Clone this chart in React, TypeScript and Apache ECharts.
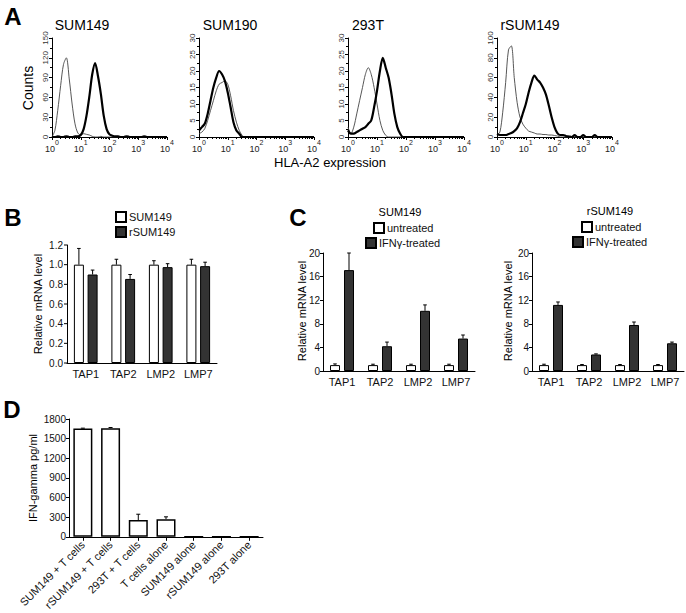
import React, { useEffect, useRef } from "react";
import * as echarts from "echarts";

const FONT = "'Liberation Sans', Arial, Helvetica, sans-serif";

// ---------- Panel A: flow histograms (x = fluorescence, log scale) ----------
const histX = [1, 1.26, 1.58, 2, 2.51, 3.16, 3.98, 5.01, 6.31, 7.94,
  10, 12.6, 15.8, 20, 25.1, 31.6, 39.8, 50.1, 63.1, 79.4,
  100, 126, 158, 200, 251, 316, 398, 501, 631, 794,
  1000, 1260, 1580, 2000, 2510, 3160, 3980, 5010, 6310, 7940, 10000];

const histTitles = ["SUM149", "SUM190", "293T", "rSUM149"];
const histYMax = [150, 30, 30, 100];
const histYStep = [30, 5, 5, 20];

// thin = control, thick = HLA-A2 stain
const sum149Ctrl = [0, 10, 40, 78, 110, 120, 88, 50, 20, 6, 3, 5, 4, 3, 1, 0, 0, 1, 0, 0, 0, 0, 0, 0, 0, 0, 0, 0, 0, 0, 0, 0, 0, 0, 0, 0, 0, 0, 0, 0, 0];
const sum149Stain = [0, 0, 1, 0, 0, 1, 0, 0, 1, 1, 3, 12, 32, 62, 95, 112, 92, 65, 32, 12, 4, 2, 1, 1, 0, 0, 1, 0, 0, 0, 0, 0, 1, 0, 0, 0, 0, 0, 0, 0, 0];
const sum190Ctrl = [1, 1.5, 2.5, 5, 8, 11, 14, 16, 16.5, 17, 16, 12.5, 8, 4.5, 2, 0.5, 0, 0, 0, 0, 0, 0, 0, 0, 0, 0, 0, 0, 0, 0, 0, 0, 0, 0, 0, 0, 0, 0, 0, 0, 0];
const sum190Stain = [2, 3, 4, 7, 11, 15, 18, 20, 19, 17, 13.5, 9, 4.5, 2, 1, 0, 0, 0, 0, 0, 0, 0, 0, 0, 0, 0, 0, 0, 0, 0, 0, 0, 0, 0, 0, 0, 0, 0, 0, 0, 0];
const t293Ctrl = [3, 1, 3, 7, 11, 15, 19, 21, 19, 15, 10, 5, 2, 0.5, 0, 0, 0, 0, 0, 0, 0, 0, 0, 0, 0, 0, 0, 0, 0, 0, 0, 0, 0, 0, 0, 0, 0, 0, 0, 0, 0];
const t293Stain = [2, 1, 1, 1.5, 2, 2.5, 3, 4, 5, 9, 14, 20, 24, 21, 18, 13, 7, 3, 1, 0, 0, 0, 0, 0, 0, 0, 0, 0, 0, 0, 0, 0, 0, 0, 0, 0, 0, 0, 0, 0, 0];
const rsum149Ctrl = [2, 5, 25, 55, 88, 92, 60, 35, 20, 13, 9, 6, 5, 4, 3, 3, 2.5, 2.5, 2, 2, 1.5, 1, 0, 0, 0, 0, 0, 0, 0, 0, 0, 0, 0, 0, 0, 0, 0, 0, 0, 0, 0];
const rsum149Stain = [3, 2, 2, 2, 3, 4, 6, 9, 15, 24, 33, 45, 55, 62, 58, 55, 50, 43, 32, 20, 10, 4, 2, 2, 1, 0.5, 0, 2, 0, 0, 2, 0, 0, 0, 2, 0, 0, 0, 0, 0, 0];

const histCtrl = [sum149Ctrl, sum190Ctrl, t293Ctrl, rsum149Ctrl];
const histStain = [sum149Stain, sum190Stain, t293Stain, rsum149Stain];

// ---------- Panel B ----------
const genes = ["TAP1", "TAP2", "LMP2", "LMP7"];
const bSum149 = [1.0, 1.0, 1.0, 1.0];
const bSum149Err = [0.165, 0.055, 0.04, 0.055];
const bRsum149 = [0.9, 0.855, 0.975, 0.985];
const bRsum149Err = [0.045, 0.045, 0.035, 0.04];
const bTickValues = [0, 0.2, 0.4, 0.6, 0.8, 1.0, 1.2];
const bTickLabels = ["0.0", "0.2", "0.4", "0.6", "0.8", "1.0", "1.2"];
const bMax = 1.2;

// ---------- Panel C ----------
const cLeftUntreated = [1.0, 1.0, 1.0, 1.0];
const cLeftUntreatedErr = [0.2, 0.15, 0.15, 0.15];
const cLeftIfn = [17.1, 4.2, 10.2, 5.5];
const cLeftIfnErr = [2.9, 0.7, 1.0, 0.6];
const cRightUntreated = [1.0, 1.0, 1.0, 1.0];
const cRightUntreatedErr = [0.15, 0.1, 0.1, 0.1];
const cRightIfn = [11.2, 2.8, 7.8, 4.7];
const cRightIfnErr = [0.5, 0.1, 0.5, 0.2];

// ---------- Panel D ----------
const dCategories = ["SUM149 + T cells", "rSUM149 + T cells", "293T + T cells", "T cells alone", "SUM149 alone", "rSUM149 alone", "293T alone"];
const dValues = [1655, 1660, 255, 270, 0, 0, 0];
const dErr = [5, 10, 90, 35, 0, 0, 0];

function errSeries(axisIdx: number, values: number[], errs: number[], offset: number, capHalf: number) {
  return {
    type: "custom",
    xAxisIndex: axisIdx,
    yAxisIndex: axisIdx,
    silent: true,
    z: 10,
    data: values.map((v, i) => [i, v, v + errs[i]]),
    renderItem: (params: any, api: any) => {
      const v = api.value(1);
      const t = api.value(2);
      if (t - v <= 0) return { type: "group", children: [] };
      const base = api.coord([api.value(0), v]);
      const top = api.coord([api.value(0), t]);
      const x = base[0] + offset;
      return {
        type: "group",
        children: [
          { type: "line", shape: { x1: x, y1: base[1], x2: x, y2: top[1] }, style: { stroke: "#000", lineWidth: 1 } },
          { type: "line", shape: { x1: x - capHalf, y1: top[1], x2: x + capHalf, y2: top[1] }, style: { stroke: "#000", lineWidth: 1 } },
        ],
      };
    },
  };
}

const axisLine = { show: true, lineStyle: { color: "#000", width: 1 } };

const catAxis = (gi: number, data: string[], extra: any = {}) => ({
  type: "category",
  gridIndex: gi,
  data,
  axisLine: { ...axisLine },
  axisTick: { show: false },
  axisLabel: { fontSize: 11, color: "#111", margin: 5, fontFamily: FONT, interval: 0 },
  ...extra,
});
const valAxis = (gi: number, max: number, interval: number, fmt: (v: any) => string, extra: any = {}) => ({
  type: "value",
  gridIndex: gi,
  position: "left",
  min: 0,
  max,
  interval,
  axisLine: { ...axisLine },
  axisTick: { show: true, length: 3, lineStyle: { color: "#000" } },
  splitLine: { show: false },
  axisLabel: { show: true, fontSize: 10, color: "#111", margin: 3, fontFamily: FONT, formatter: fmt },
  ...extra,
});
const legendItem = (name: string, left: number, top: number) => ({
  data: [name],
  left,
  top,
  padding: 0,
  itemWidth: 10,
  itemHeight: 10,
  icon: "rect",
  selectedMode: false,
  textStyle: { fontSize: 11, color: "#111", fontFamily: FONT, padding: [0, 0, 0, -2] },
});
const txt = (text: string, x: number, y: number, size: number, extra: any = {}) => ({
  type: "text",
  x,
  y,
  ...extra,
  style: { text, fontSize: size, fontFamily: FONT, fill: "#000", align: "center", verticalAlign: "middle", ...(extra.style || {}) },
});
const vert = { rotation: Math.PI / 2 };
const whiteBar = { color: "#fff", borderColor: "#000", borderWidth: 1 };
const darkBar = { color: "#333", borderColor: "#000", borderWidth: 1 };
const plain = (v: any) => String(v);

// Panel B is drawn in its own instance, laid over the main one at this offset
const B_TOP = 190;
const B_GRID = { left: 67, top: 245 - B_TOP, width: 150, height: 118 };

export default function App() {
  const ref = useRef<HTMLDivElement>(null);
  const refB = useRef<HTMLDivElement>(null);
  useEffect(() => {
    if (!ref.current || !refB.current) return;
    const chart = echarts.init(ref.current, null, { renderer: "svg" });
    const chartB = echarts.init(refB.current, null, { renderer: "svg" });

    const histGrids = [
      { left: 52, top: 38, width: 115, height: 99 },
      { left: 199, top: 38, width: 115, height: 99 },
      { left: 348, top: 38, width: 116, height: 99 },
      { left: 497, top: 38, width: 115, height: 99 },
    ];
    const barGrids = [
      { left: 323, top: 253, width: 152, height: 118 }, // C left
      { left: 532, top: 253, width: 152, height: 118 }, // C right
      { left: 69, top: 419, width: 194, height: 118.5 }, // D
    ];
    const grid = [...histGrids, ...barGrids].map((g) => ({ ...g, containLabel: false }));

    const histXAxes = histGrids.map((_, i) => ({
      type: "log",
      gridIndex: i,
      min: 1,
      max: 10000,
      logBase: 10,
      axisLine: { ...axisLine },
      axisTick: { show: true, length: 3, lineStyle: { color: "#000" } },
      minorTick: { show: true, splitNumber: 9, length: 2, lineStyle: { color: "#000" } },
      splitLine: { show: false },
      minorSplitLine: { show: false },
      axisLabel: {
        margin: 2,
        formatter: (v: number) => `{b|10}{s|${Math.round(Math.log10(v))}}`,
        rich: {
          b: { fontSize: 9, fontFamily: FONT, color: "#222", verticalAlign: "bottom", lineHeight: 14 },
          s: { fontSize: 7, fontFamily: FONT, color: "#222", verticalAlign: "top", lineHeight: 14 },
        },
      },
    }));
    const histYAxes = histGrids.map((_, i) => ({
      type: "value",
      gridIndex: i,
      min: 0,
      max: histYMax[i],
      interval: histYStep[i],
      axisLine: { ...axisLine },
      axisTick: { show: true, length: 3, lineStyle: { color: "#000" } },
      minorTick: { show: true, splitNumber: 2, length: 2, lineStyle: { color: "#000" } },
      splitLine: { show: false },
      axisLabel: { rotate: 90, fontSize: 8, color: "#333", margin: 3, fontFamily: FONT },
    }));

    const xAxis = [
      ...histXAxes,
      catAxis(4, genes),
      catAxis(5, genes),
      catAxis(6, dCategories, {
        axisTick: { show: true, alignWithLabel: true, length: 4, lineStyle: { color: "#000" } },
        axisLabel: { fontSize: 11, color: "#111", margin: 6, rotate: 45, interval: 0, fontFamily: FONT },
      }),
    ];
    const yAxis = [
      ...histYAxes,
      valAxis(4, 20, 4, plain),
      valAxis(5, 20, 4, plain),
      valAxis(6, 1800, 300, plain),
    ];

    const histSeries: any[] = [];
    histGrids.forEach((_, i) => {
      histSeries.push({
        type: "line",
        name: histTitles[i] + " control",
        xAxisIndex: i,
        yAxisIndex: i,
        showSymbol: false,
        symbol: "none",
        smooth: 0.3,
        data: histCtrl[i].map((c, k) => [histX[k], c]),
        lineStyle: { color: "#444", width: 0.9 },
        z: 3,
      });
      histSeries.push({
        type: "line",
        name: histTitles[i] + " HLA-A2",
        xAxisIndex: i,
        yAxisIndex: i,
        showSymbol: false,
        symbol: "none",
        smooth: 0.3,
        data: histStain[i].map((c, k) => [histX[k], c]),
        lineStyle: { color: "#000", width: 2.2 },
        z: 4,
      });
    });

    const barSeries: any[] = [
      { type: "bar", name: "untreated", xAxisIndex: 4, yAxisIndex: 4, data: cLeftUntreated, barWidth: 10, barGap: "40%", itemStyle: whiteBar },
      { type: "bar", name: "IFNγ-treated", xAxisIndex: 4, yAxisIndex: 4, data: cLeftIfn, barWidth: 10, barGap: "40%", itemStyle: darkBar },
      errSeries(4, cLeftUntreated, cLeftUntreatedErr, -7, 1.8),
      errSeries(4, cLeftIfn, cLeftIfnErr, 7, 1.8),

      { type: "bar", name: "untreated", xAxisIndex: 5, yAxisIndex: 5, data: cRightUntreated, barWidth: 10, barGap: "40%", itemStyle: whiteBar },
      { type: "bar", name: "IFNγ-treated", xAxisIndex: 5, yAxisIndex: 5, data: cRightIfn, barWidth: 10, barGap: "40%", itemStyle: darkBar },
      errSeries(5, cRightUntreated, cRightUntreatedErr, -7, 1.8),
      errSeries(5, cRightIfn, cRightIfnErr, 7, 1.8),

      { type: "bar", name: "IFN-gamma", xAxisIndex: 6, yAxisIndex: 6, data: dValues, barWidth: 19, itemStyle: { color: "#fff", borderColor: "#000", borderWidth: 1.5 } },
      errSeries(6, dValues, dErr, 0, 2),
    ];

    chart.setOption({
      animation: false,
      backgroundColor: "#fff",
      textStyle: { fontFamily: FONT },
      grid,
      xAxis,
      yAxis,
      legend: [
        legendItem("untreated", 373, 222),
        legendItem("IFNγ-treated", 365, 237),
        legendItem("untreated", 581, 221),
        legendItem("IFNγ-treated", 572, 236),
      ],
      series: [...histSeries, ...barSeries],
      graphic: [
        txt("A", 13, 16, 24, { style: { fontWeight: "bold" } }),
        txt("C", 298, 217, 24, { style: { fontWeight: "bold" } }),
        txt("D", 12, 409, 24, { style: { fontWeight: "bold" } }),
        txt(histTitles[0], 82, 25, 14),
        txt(histTitles[1], 230, 25, 14),
        txt(histTitles[2], 368, 25, 14),
        txt(histTitles[3], 530, 25, 14),
        txt("Counts", 28, 88, 14, vert),
        txt("HLA-A2 expression", 330, 162, 13),
        txt("SUM149", 400, 212, 11),
        txt("rSUM149", 610, 211, 11),
        txt("Relative mRNA level", 302, 311, 11, vert),
        txt("Relative mRNA level", 508, 311, 11, vert),
        txt("IFN-gamma pg/ml", 33, 478, 11, vert),
      ],
    });

    // ----- Panel B -----
    const bBaseGraphic: any[] = [
      txt("B", 13, 217 - B_TOP, 24, { style: { fontWeight: "bold" } }),
      txt("Relative mRNA level", 38, 304 - B_TOP, 11, vert),
    ];
    chartB.setOption({
      animation: false,
      backgroundColor: "transparent",
      textStyle: { fontFamily: FONT },
      grid: [{ ...B_GRID, containLabel: false }],
      xAxis: [catAxis(0, genes)],
      yAxis: [valAxis(0, bMax, 0.2, plain, { axisLabel: { show: false }, axisTick: { show: false } })],
      legend: [legendItem("SUM149", 115, 211 - B_TOP), legendItem("rSUM149", 115, 226 - B_TOP)],
      series: [
        { type: "bar", name: "SUM149", xAxisIndex: 0, yAxisIndex: 0, data: bSum149, barWidth: 10, barGap: "37%", itemStyle: whiteBar },
        { type: "bar", name: "rSUM149", xAxisIndex: 0, yAxisIndex: 0, data: bRsum149, barWidth: 10, barGap: "37%", itemStyle: darkBar },
        errSeries(0, bSum149, bSum149Err, -6.85, 1.8),
        errSeries(0, bRsum149, bRsum149Err, 6.85, 1.8),
      ],
      graphic: bBaseGraphic,
    });

    // B y-axis ticks and labels
    const ax = B_GRID.left;
    const tickEls: any[] = [];
    bTickValues.forEach((v, i) => {
      let y = NaN;
      try {
        const p: any = chartB.convertToPixel({ gridIndex: 0 } as any, [0, v]);
        if (p && isFinite(p[1])) y = p[1];
      } catch (e) {
        y = NaN;
      }
      if (!isFinite(y)) y = B_GRID.top + B_GRID.height * (1 - v / bMax);
      tickEls.push({
        type: "line",
        z: 60,
        shape: { x1: ax - 3, y1: y, x2: ax, y2: y },
        style: { stroke: "#000", lineWidth: 1 },
      });
      tickEls.push({
        type: "text",
        z: 60,
        x: ax - 4,
        y,
        style: { text: bTickLabels[i], fontSize: 10, fontFamily: FONT, fill: "#111", align: "right", verticalAlign: "middle" },
      });
    });
    chartB.setOption({ graphic: [...bBaseGraphic, ...tickEls] });

    return () => {
      chart.dispose();
      chartB.dispose();
    };
  }, []);

  return (
    <>
      <div
        ref={ref}
        style={{ position: "fixed", left: 0, top: 0, width: 686, height: 613, background: "#fff" }}
      />
      <div
        ref={refB}
        style={{ position: "fixed", left: 0, top: B_TOP, width: 250, height: 200, zIndex: 1 }}
      />
    </>
  );
}
